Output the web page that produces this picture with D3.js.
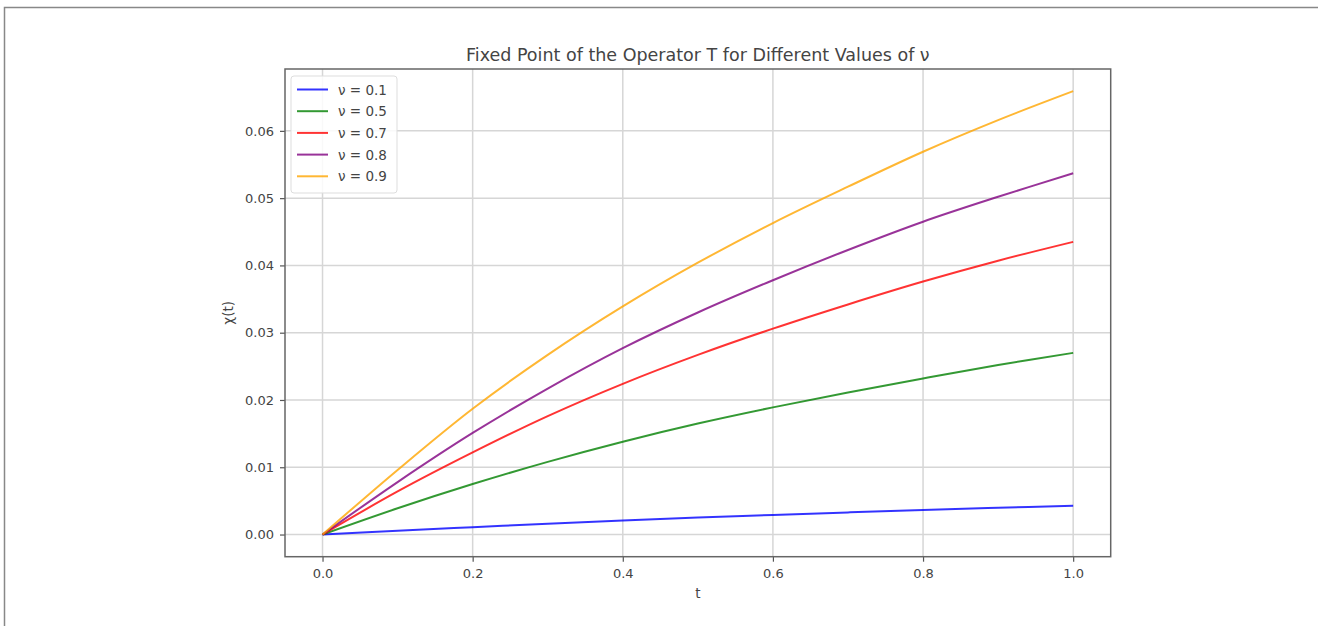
<!DOCTYPE html>
<html><head><meta charset="utf-8">
<script src="https://cdn.jsdelivr.net/npm/d3@7"></script>
<style>
body{margin:0;background:#fff;}
text{font-family:"DejaVu Sans",sans-serif;}
</style></head>
<body><svg id="c" width="1318" height="626"></svg>
<script>
const tValues = [0,0.1,0.2,0.3,0.4,0.5,0.6,0.7,0.8,0.9,1.0];
const nu01 = [0,0.00058,0.00110,0.00162,0.00210,0.00252,0.00291,0.00329,0.00365,0.00397,0.00427];
const nu05 = [0,0.0039,0.0075,0.0108,0.0138,0.0165,0.0189,0.0211,0.0232,0.0252,0.0270];
const nu07 = [0,0.0064,0.0122,0.0176,0.0224,0.0267,0.0306,0.0342,0.0376,0.0407,0.0435];
const nu08 = [0,0.0078,0.0151,0.0217,0.0277,0.0330,0.0378,0.0423,0.0465,0.0502,0.0537];
const nu09 = [0,0.0096,0.0187,0.0267,0.0339,0.0404,0.0463,0.0517,0.0569,0.0616,0.0659];
const seriesLabels = ["ν = 0.1","ν = 0.5","ν = 0.7","ν = 0.8","ν = 0.9"];
const seriesColors = ["blue","green","red","purple","orange"];
const seriesValues = [nu01,nu05,nu07,nu08,nu09];
const xTicks = [0.0,0.2,0.4,0.6,0.8,1.0];
const yTicks = [0.00,0.01,0.02,0.03,0.04,0.05,0.06];

const svg = d3.select("#c");
// figure border
svg.append("path").attr("d","M4.5,626 L4.5,7.5 L1318,7.5").attr("fill","none").attr("stroke","#888").attr("stroke-width",1.5);

const L=285, R=1110.7, T=69, B=556.7;
const x = d3.scaleLinear().domain([-0.05,1.05]).range([L,R]);
const ymax = 0.0659, ymin=0;
const pad = (ymax-ymin)*0.05;
const y = d3.scaleLinear().domain([ymin-pad,ymax+pad]).range([B,T]);

// grid
const g = svg.append("g");
g.selectAll(".vx").data(xTicks).enter().append("line")
 .attr("x1",d=>x(d)).attr("x2",d=>x(d)).attr("y1",T).attr("y2",B)
 .attr("stroke","#d6d6d6").attr("stroke-width",1.5);
g.selectAll(".hy").data(yTicks).enter().append("line")
 .attr("y1",d=>y(d)).attr("y2",d=>y(d)).attr("x1",L).attr("x2",R)
 .attr("stroke","#d6d6d6").attr("stroke-width",1.5);

// lines
const line = d3.line().x((d,i)=>x(tValues[i])).y(d=>y(d)).curve(d3.curveCatmullRom);
seriesValues.forEach((vals,k)=>{
  svg.append("path").datum(vals).attr("d",line).attr("fill","none")
   .attr("stroke",seriesColors[k]).attr("stroke-width",2).attr("stroke-opacity",0.8);
});

// axes
const xAxis = d3.axisBottom(x).tickValues(xTicks).tickFormat(d3.format(".1f")).tickSize(5).tickPadding(7);
const yAxis = d3.axisLeft(y).tickValues(yTicks).tickFormat(d3.format(".2f")).tickSize(5).tickPadding(6);
const ax = svg.append("g").attr("transform",`translate(0,${B})`).call(xAxis);
const ay = svg.append("g").attr("transform",`translate(${L},0)`).call(yAxis);
[ax,ay].forEach(a=>{
  a.select(".domain").remove();
  a.selectAll(".tick line").attr("stroke","#555").attr("stroke-width",1.2);
  a.selectAll(".tick text").attr("fill","#444").style("font-size","13px").style("font-family","DejaVu Sans");
});
svg.append("rect").attr("x",L).attr("y",T).attr("width",R-L).attr("height",B-T)
 .attr("fill","none").attr("stroke","#666").attr("stroke-width",1.5);

// labels
svg.append("text").attr("x",(L+R)/2).attr("y",61).attr("text-anchor","middle")
 .style("font-size","17.5px").attr("fill","#444").text("Fixed Point of the Operator T for Different Values of ν");
svg.append("text").attr("x",(L+R)/2).attr("y",598).attr("text-anchor","middle")
 .style("font-size","13.5px").attr("fill","#444").text("t");
svg.append("text").attr("transform",`translate(233,${(T+B)/2}) rotate(-90)`).attr("text-anchor","middle")
 .style("font-size","13.5px").attr("fill","#444").text("χ(t)");

// legend
const lg = svg.append("g");
lg.append("rect").attr("x",291).attr("y",76).attr("width",106).attr("height",117).attr("rx",3)
 .attr("fill","#fff").attr("fill-opacity",0.85).attr("stroke","#ddd");
seriesLabels.forEach((lab,k)=>{
  const yy = 89.5 + k*21.7;
  lg.append("line").attr("x1",297).attr("x2",328).attr("y1",yy).attr("y2",yy)
   .attr("stroke",seriesColors[k]).attr("stroke-width",2).attr("stroke-opacity",0.8);
  lg.append("text").attr("x",338).attr("y",yy+5).style("font-size","13.5px").attr("fill","#444").text(lab);
});
</script></body></html>
